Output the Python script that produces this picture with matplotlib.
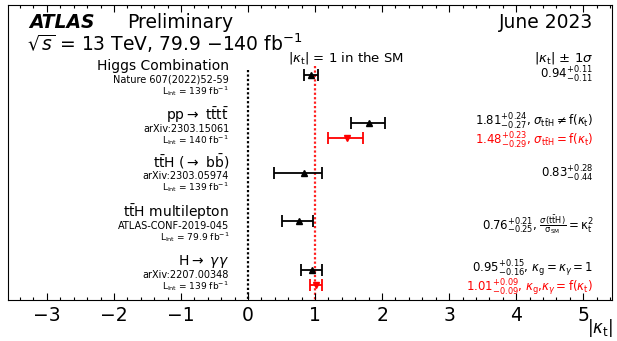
import matplotlib
matplotlib.use("Agg")
import matplotlib.pyplot as plt

plt.rcParams['font.family'] = ['DejaVu Sans']
plt.rcParams['mathtext.fontset'] = 'dejavusans'

# measurements of |kappa_t|
kt_val = [0.94, 1.81, 1.48, 0.83, 0.76, 0.95, 1.01]
kt_up = [0.11, 0.24, 0.23, 0.28, 0.21, 0.15, 0.09]
kt_dn = [0.11, 0.27, 0.29, 0.44, 0.25, 0.16, 0.09]
kt_col = ['black', 'black', 'red', 'black', 'black', 'black', 'red']
kt_mark = ['^', '^', 'v', '^', '^', '^', 'v']
kt_text = [
    r'$0.94^{+0.11}_{-0.11}$',
    r'$1.81^{+0.24}_{-0.27}$, $\sigma_{\rm t\bar{t}H} \neq \mathrm{f}(\kappa_{\rm t})$',
    r'$1.48^{+0.23}_{-0.29}$, $\sigma_{\rm t\bar{t}H} = \mathrm{f}(\kappa_{\rm t})$',
    r'$0.83^{+0.28}_{-0.44}$',
    r'$0.76^{+0.21}_{-0.25}$, $\frac{\sigma(\rm t\bar{t}H)}{\sigma_{\rm SM}} = \kappa_{\rm t}^{2}$',
    r'$0.95^{+0.15}_{-0.16}$, $\kappa_{\rm g} = \kappa_{\gamma} = 1$',
    r'$1.01^{+0.09}_{-0.09}$, $\kappa_{\rm g}$,$\kappa_{\gamma} = \mathrm{f}(\kappa_{\rm t})$',
]
# analyses (title, reference, luminosity)
ana_title = ['Higgs Combination', r'pp$\rightarrow$ $\mathrm{t\bar{t}t\bar{t}}$',
             r'$\mathrm{t\bar{t}H}$ ($\rightarrow$ $\mathrm{b\bar{b}}$)',
             r'$\mathrm{t\bar{t}H}$ multilepton', r'H$\rightarrow$ $\gamma\gamma$']
ana_ref = ['Nature 607(2022)52-59', 'arXiv:2303.15061', 'arXiv:2303.05974',
           'ATLAS-CONF-2019-045', 'arXiv:2207.00348']
ana_lumi = ['139', '140', '139', '79.9', '139']
sm_value = 1.0

# layout (vertical positions in pixel-like units, top = 0)
pt_y = [75, 123, 138, 173, 221, 270, 285]
txt_y = [75, 122, 141, 174, 225, 269, 288]
ana_y = [66, 115, 162, 212, 261]

fig = plt.figure(figsize=(6.17, 3.41), dpi=100)
ax = fig.add_axes([8 / 617, 1 - 300 / 341, 604 / 617, 295 / 341])
ax.set_xlim(-3.58, 5.43)
ax.set_ylim(300, 5)

ax.vlines(0, 70, 300, colors='black', linestyles=(0, (1, 1)), lw=1.6, zorder=1)
ax.vlines(sm_value, 66, 300, colors='#ff2020', linestyles=(0, (1, 1)), lw=1.6, zorder=1)

for v, u, d, c, m, y, t, ty in zip(kt_val, kt_up, kt_dn, kt_col, kt_mark, pt_y, kt_text, txt_y):
    ax.errorbar(v, y, xerr=[[d], [u]], fmt=m, color=c, ms=4.5, lw=1.3,
                capsize=4, capthick=1.3, zorder=3)
    ax.text(5.15, ty, t, color=c, fontsize=8.5, ha='right', va='center')

for t, r, l, y in zip(ana_title, ana_ref, ana_lumi, ana_y):
    ax.text(-0.28, y, t, fontsize=10, ha='right', va='center')
    ax.text(-0.28, y + 14, r, fontsize=7, ha='right', va='center')
    ax.text(-0.28, y + 25, r'L$_{\rm Int}$ = ' + l + r' fb$^{-1}$', fontsize=6.5,
            ha='right', va='center')

ax.text(-3.27, 22, 'ATLAS', fontsize=13.5, fontweight='bold', style='italic', va='center')
ax.text(-1.8, 22, 'Preliminary', fontsize=13.5, va='center')
ax.text(5.15, 22, 'June 2023', fontsize=13.5, ha='right', va='center')
ax.text(-3.3, 43, r'$\sqrt{s}$ = 13 TeV, 79.9 $-$140 fb$^{-1}$', fontsize=13.5, va='center')
ax.text(0.6, 58, r'$|\kappa_{\rm t}|$ = 1 in the SM', fontsize=9.5, ha='left', va='center')
ax.text(5.15, 58, r'$|\kappa_{\rm t}|$ $\pm$ 1$\sigma$', fontsize=9.5, ha='right', va='center')

ax.set_xticks(range(-3, 6))
ax.set_xticklabels(['\u22123', '\u22122', '\u22121', '0', '1', '2', '3', '4', '5'])
ax.xaxis.set_minor_locator(matplotlib.ticker.MultipleLocator(0.2))
ax.tick_params(axis='x', which='both', direction='in', top=True, labelsize=13.5, pad=4)
ax.tick_params(axis='x', which='major', length=5, width=0.8)
ax.tick_params(axis='x', which='minor', length=2.5, width=0.8)
ax.set_yticks([])
fig.text(600 / 617, 1 - 328 / 341, r'$|\kappa_{\rm t}|$', fontsize=12, ha='center', va='center')

fig.savefig('out.png', dpi=100)
